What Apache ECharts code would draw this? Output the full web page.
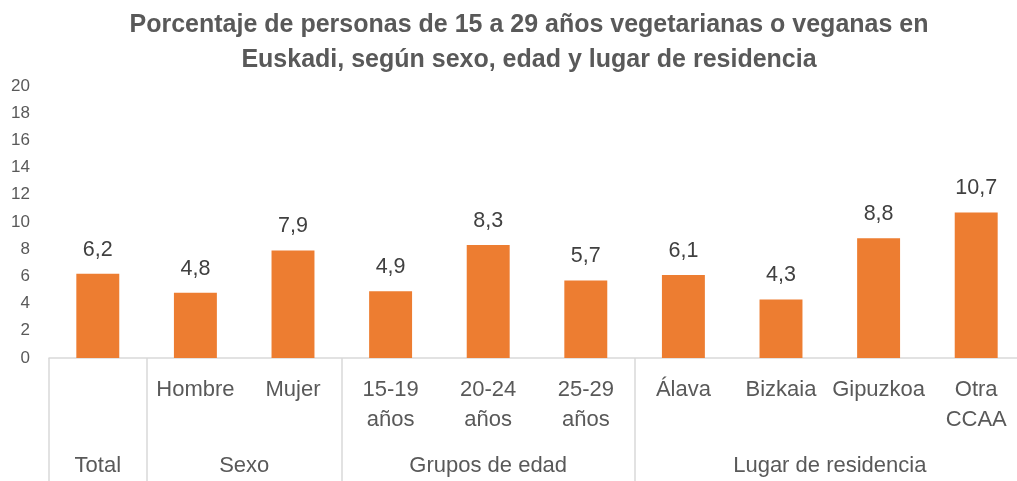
<!DOCTYPE html>
<html><head><meta charset="utf-8">
<script src="https://cdn.jsdelivr.net/npm/echarts@6/dist/echarts.min.js"></script>
<style>html,body{margin:0;padding:0;background:#fff}#c{width:1017px;height:481px}</style>
</head><body><div id="c"></div>
<script>
const titleText = 'Porcentaje de personas de 15 a 29 años vegetarianas o veganas en\nEuskadi, según sexo, edad y lugar de residencia';
const categories = ['', 'Hombre', 'Mujer', '15-19\naños', '20-24\naños', '25-29\naños', 'Álava', 'Bizkaia', 'Gipuzkoa', 'Otra\nCCAA'];
const values = [6.2, 4.8, 7.9, 4.9, 8.3, 5.7, 6.1, 4.3, 8.8, 10.7];
const groupNames = ['Total', 'Sexo', 'Grupos de edad', 'Lugar de residencia'];
const groupSizes = [1, 2, 3, 4];
const yTicks = [0, 20, 2]; // min, max, interval

// group boundaries and centers derived from group sizes
const boundaries = [];
const centers = {};
let acc = 0;
groupSizes.forEach((s, i) => {
  boundaries.push(acc);
  centers[(acc + s / 2).toFixed(2)] = groupNames[i];
  acc += s;
});
boundaries.push(acc);

const FONT = 'Liberation Sans, Arial, sans-serif';
const chart = echarts.init(document.getElementById('c'));
chart.setOption({
  animation: false,
  title: {
    text: titleText,
    left: 524, top: 3, textAlign: 'center',
    textStyle: { fontFamily: FONT, fontSize: 25, fontWeight: 'bold', color: '#595959', lineHeight: 35 }
  },
  grid: { left: 49, width: 976, top: 86, height: 272, outerBoundsMode: 'none', containLabel: false },
  xAxis: [{
    type: 'category',
    data: categories,
    position: 'bottom',
    axisLine: { show: true, lineStyle: { color: '#d9d9d9', width: 1.5 } },
    axisTick: {
      show: true, length: 128,
      interval: (i) => boundaries.includes(i),
      lineStyle: { color: '#d9d9d9', width: 1.5 }
    },
    axisLabel: { interval: 0, margin: 17, color: '#595959', fontFamily: FONT, fontSize: 22, lineHeight: 30 }
  }, {
    type: 'value', min: 0, max: acc, interval: 0.5,
    position: 'bottom',
    axisLine: { show: false }, axisTick: { show: false }, splitLine: { show: false },
    axisLabel: {
      margin: 93, color: '#595959', fontFamily: FONT, fontSize: 22, lineHeight: 30,
      showMinLabel: true, showMaxLabel: true,
      formatter: (v) => centers[v.toFixed(2)] || ''
    }
  }],
  yAxis: {
    type: 'value', min: yTicks[0], max: yTicks[1], interval: yTicks[2],
    axisLine: { show: false }, axisTick: { show: false }, splitLine: { show: false },
    axisLabel: { margin: 19, color: '#595959', fontFamily: FONT, fontSize: 17 }
  },
  series: [{
    type: 'bar', data: values, xAxisIndex: 0,
    barCategoryGap: '56%',
    itemStyle: { color: '#ED7D31' },
    label: {
      show: true, position: 'top', distance: 13,
      color: '#404040', fontFamily: FONT, fontSize: 21.5,
      formatter: (p) => String(p.value).replace('.', ',')
    }
  }]
});
</script></body></html>
